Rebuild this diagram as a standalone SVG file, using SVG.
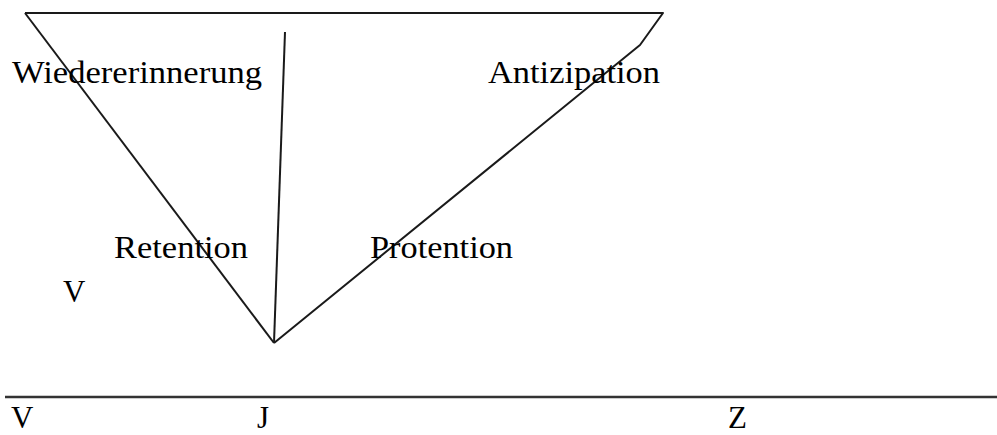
<svg xmlns="http://www.w3.org/2000/svg" width="997" height="435" viewBox="0 0 997 435">
<style>
.t{font-family:"Liberation Serif","Times New Roman",serif;font-size:31px;fill:#000}
.l{fill:none;stroke:#1a1a1a;stroke-width:2;stroke-linejoin:round}
</style>
<rect width="997" height="435" fill="#fff"/>
<g id="connectors">
<path class="l" d="M25,13 L663,13 L640,45 L274,343"/>
<path class="l" d="M25,13 L274,343"/>
<path class="l" d="M285,32 L274,343"/>
<path d="M5,397 L997,397" stroke="#333" stroke-width="2.5"/>
</g>
<g id="wiedererinnerung"><text class="t" x="12" y="83" textLength="250" lengthAdjust="spacingAndGlyphs">Wiedererinnerung</text></g>
<g id="antizipation"><text class="t" x="488" y="83" textLength="172" lengthAdjust="spacingAndGlyphs">Antizipation</text></g>
<g id="retention"><text class="t" x="114" y="258" textLength="134" lengthAdjust="spacingAndGlyphs">Retention</text></g>
<g id="protention"><text class="t" x="370" y="258" textLength="143" lengthAdjust="spacingAndGlyphs">Protention</text></g>
<g id="v-mid"><text class="t" x="63" y="302">V</text></g>
<g id="v-axis"><text class="t" x="11" y="428">V</text></g>
<g id="j-axis"><text class="t" x="257" y="428">J</text></g>
<g id="z-axis"><text class="t" x="728" y="428">Z</text></g>
</svg>
